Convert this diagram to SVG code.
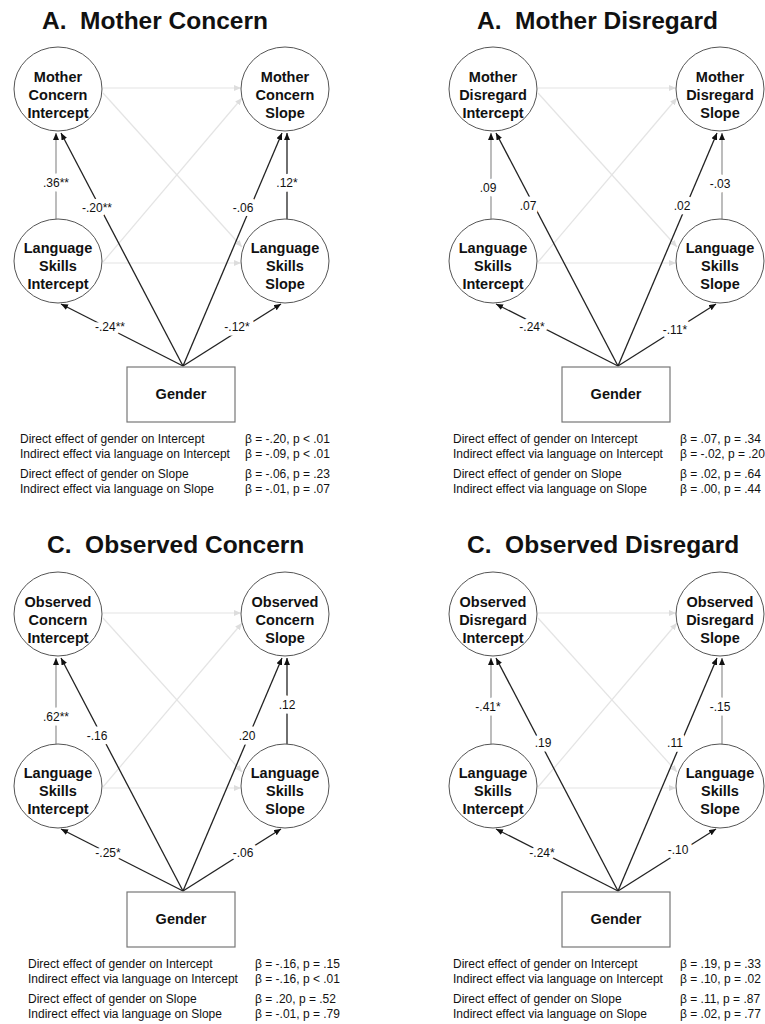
<svg xmlns="http://www.w3.org/2000/svg" width="765" height="1024" viewBox="0 0 765 1024">
<style>
text{font-family:"Liberation Sans",Arial,sans-serif;fill:#111}
.title{font-size:24.5px;font-weight:bold;white-space:pre}
.nt{font-size:14.5px;font-weight:bold;text-anchor:middle}
.lab{font-size:12px;text-anchor:middle;stroke:#fff;stroke-width:9px;paint-order:stroke;stroke-linejoin:round}
.tb{font-size:12px}
.node{fill:#fff;stroke:#555;stroke-width:1}
.box{fill:#fff;stroke:#777;stroke-width:1.2}
.lt{stroke:#e4e4e4;stroke-width:1.2;fill:none;marker-end:url(#al)}
.dk{stroke:#222;stroke-width:1.3;fill:none;marker-end:url(#ad)}
.gr{stroke:#999;stroke-width:1.3;fill:none;marker-end:url(#ad)}
</style>
<defs>
<marker id="ad" markerUnits="userSpaceOnUse" markerWidth="8" markerHeight="6" refX="7" refY="3" orient="auto"><path d="M0,0 L7,3 L0,6 Z" fill="#111"/></marker>
<marker id="al" markerUnits="userSpaceOnUse" markerWidth="8" markerHeight="6" refX="7" refY="3" orient="auto"><path d="M0,0 L7,3 L0,6 Z" fill="#ddd"/></marker>
</defs>
<rect width="765" height="1024" fill="#fff"/>

<!-- Titles -->
<text class="title" x="42" y="29">A.  Mother Concern</text>
<text class="title" x="477" y="29">A.  Mother Disregard</text>
<text class="title" x="47" y="553">C.  Observed Concern</text>
<text class="title" x="467" y="553">C.  Observed Disregard</text>

<!-- Panel 1 -->
<g id="panel-mother-concern">
<g id="p1-connectors">
<line class="lt" x1="103" y1="88" x2="241" y2="88"/>
<line class="lt" x1="103" y1="93" x2="242" y2="247"/>
<line class="lt" x1="103" y1="262" x2="242" y2="98"/>
<line class="lt" x1="103" y1="263" x2="241" y2="263"/>
<line class="gr" x1="56" y1="219" x2="56" y2="133"/>
<line class="dk" x1="287" y1="219" x2="287" y2="133"/>
<line class="dk" x1="183" y1="366" x2="61" y2="133"/>
<line class="dk" x1="183" y1="366" x2="282" y2="133"/>
<line class="dk" x1="183" y1="366" x2="61" y2="304"/>
<line class="dk" x1="183" y1="366" x2="281" y2="304"/>
<text class="lab" x="56" y="187">.36**</text>
<text class="lab" x="287" y="187">.12*</text>
<text class="lab" x="97" y="212">-.20**</text>
<text class="lab" x="243" y="212">-.06</text>
<text class="lab" x="110" y="331">-.24**</text>
<text class="lab" x="237" y="331">-.12*</text>
</g>
<g id="p1-mci"><ellipse class="node" cx="58" cy="89" rx="44" ry="42"/><text class="nt" x="58" y="82">Mother</text><text class="nt" x="58" y="100">Concern</text><text class="nt" x="58" y="118">Intercept</text></g>
<g id="p1-mcs"><ellipse class="node" cx="285" cy="89" rx="44" ry="42"/><text class="nt" x="285" y="82">Mother</text><text class="nt" x="285" y="100">Concern</text><text class="nt" x="285" y="118">Slope</text></g>
<g id="p1-lsi"><ellipse class="node" cx="58" cy="261" rx="44" ry="42"/><text class="nt" x="58" y="253">Language</text><text class="nt" x="58" y="271">Skills</text><text class="nt" x="58" y="289">Intercept</text></g>
<g id="p1-lss"><ellipse class="node" cx="285" cy="261" rx="44" ry="42"/><text class="nt" x="285" y="253">Language</text><text class="nt" x="285" y="271">Skills</text><text class="nt" x="285" y="289">Slope</text></g>
<g id="p1-gender"><rect class="box" x="127" y="367" width="108" height="55"/><text class="nt" x="181" y="399">Gender</text></g>
<g id="p1-table" class="tb">
<text class="tb" x="20" y="443">Direct effect of gender on Intercept</text><text class="tb" x="245" y="443">β = -.20, p &lt; .01</text>
<text class="tb" x="20" y="458">Indirect effect via language on Intercept</text><text class="tb" x="245" y="458">β = -.09, p &lt; .01</text>
<text class="tb" x="20" y="478">Direct effect of gender on Slope</text><text class="tb" x="245" y="478">β = -.06, p = .23</text>
<text class="tb" x="20" y="493">Indirect effect via language on Slope</text><text class="tb" x="245" y="493">β = -.01, p = .07</text>
</g>
</g>

<!-- Panel 2 -->
<g id="panel-mother-disregard" transform="translate(435,0)">
<g id="p2-connectors">
<line class="lt" x1="103" y1="88" x2="241" y2="88"/>
<line class="lt" x1="103" y1="93" x2="242" y2="247"/>
<line class="lt" x1="103" y1="262" x2="242" y2="98"/>
<line class="lt" x1="103" y1="263" x2="241" y2="263"/>
<line class="gr" x1="56" y1="219" x2="56" y2="133"/>
<line class="gr" x1="287" y1="219" x2="287" y2="133"/>
<line class="dk" x1="183" y1="366" x2="61" y2="133"/>
<line class="dk" x1="183" y1="366" x2="282" y2="133"/>
<line class="dk" x1="183" y1="366" x2="61" y2="304"/>
<line class="dk" x1="183" y1="366" x2="281" y2="304"/>
<text class="lab" x="53" y="192">.09</text>
<text class="lab" x="285" y="188">-.03</text>
<text class="lab" x="93" y="210">.07</text>
<text class="lab" x="247" y="210">.02</text>
<text class="lab" x="97" y="331">-.24*</text>
<text class="lab" x="240" y="334">-.11*</text>
</g>
<g id="p2-mdi"><ellipse class="node" cx="58" cy="89" rx="44" ry="42"/><text class="nt" x="58" y="82">Mother</text><text class="nt" x="58" y="100">Disregard</text><text class="nt" x="58" y="118">Intercept</text></g>
<g id="p2-mds"><ellipse class="node" cx="285" cy="89" rx="44" ry="42"/><text class="nt" x="285" y="82">Mother</text><text class="nt" x="285" y="100">Disregard</text><text class="nt" x="285" y="118">Slope</text></g>
<g id="p2-lsi"><ellipse class="node" cx="58" cy="261" rx="44" ry="42"/><text class="nt" x="58" y="253">Language</text><text class="nt" x="58" y="271">Skills</text><text class="nt" x="58" y="289">Intercept</text></g>
<g id="p2-lss"><ellipse class="node" cx="285" cy="261" rx="44" ry="42"/><text class="nt" x="285" y="253">Language</text><text class="nt" x="285" y="271">Skills</text><text class="nt" x="285" y="289">Slope</text></g>
<g id="p2-gender"><rect class="box" x="127" y="367" width="108" height="55"/><text class="nt" x="181" y="399">Gender</text></g>
<g id="p2-table">
<text class="tb" x="18" y="443">Direct effect of gender on Intercept</text><text class="tb" x="245" y="443">β = .07, p = .34</text>
<text class="tb" x="18" y="458">Indirect effect via language on Intercept</text><text class="tb" x="245" y="458">β = -.02, p = .20</text>
<text class="tb" x="18" y="478">Direct effect of gender on Slope</text><text class="tb" x="245" y="478">β = .02, p = .64</text>
<text class="tb" x="18" y="493">Indirect effect via language on Slope</text><text class="tb" x="245" y="493">β = .00, p = .44</text>
</g>
</g>

<!-- Panel 3 -->
<g id="panel-observed-concern" transform="translate(0,525)">
<g id="p3-connectors">
<line class="lt" x1="103" y1="88" x2="241" y2="88"/>
<line class="lt" x1="103" y1="93" x2="242" y2="247"/>
<line class="lt" x1="103" y1="262" x2="242" y2="98"/>
<line class="lt" x1="103" y1="263" x2="241" y2="263"/>
<line class="gr" x1="56" y1="219" x2="56" y2="133"/>
<line class="dk" x1="287" y1="219" x2="287" y2="133"/>
<line class="dk" x1="183" y1="366" x2="61" y2="133"/>
<line class="dk" x1="183" y1="366" x2="282" y2="133"/>
<line class="dk" x1="183" y1="366" x2="61" y2="304"/>
<line class="dk" x1="183" y1="366" x2="281" y2="304"/>
<text class="lab" x="56" y="196">.62**</text>
<text class="lab" x="287" y="184">.12</text>
<text class="lab" x="97" y="215">-.16</text>
<text class="lab" x="247" y="215">.20</text>
<text class="lab" x="108" y="332">-.25*</text>
<text class="lab" x="243" y="332">-.06</text>
</g>
<g id="p3-oci"><ellipse class="node" cx="58" cy="89" rx="44" ry="42"/><text class="nt" x="58" y="82">Observed</text><text class="nt" x="58" y="100">Concern</text><text class="nt" x="58" y="118">Intercept</text></g>
<g id="p3-ocs"><ellipse class="node" cx="285" cy="89" rx="44" ry="42"/><text class="nt" x="285" y="82">Observed</text><text class="nt" x="285" y="100">Concern</text><text class="nt" x="285" y="118">Slope</text></g>
<g id="p3-lsi"><ellipse class="node" cx="58" cy="261" rx="44" ry="42"/><text class="nt" x="58" y="253">Language</text><text class="nt" x="58" y="271">Skills</text><text class="nt" x="58" y="289">Intercept</text></g>
<g id="p3-lss"><ellipse class="node" cx="285" cy="261" rx="44" ry="42"/><text class="nt" x="285" y="253">Language</text><text class="nt" x="285" y="271">Skills</text><text class="nt" x="285" y="289">Slope</text></g>
<g id="p3-gender"><rect class="box" x="127" y="367" width="108" height="55"/><text class="nt" x="181" y="399">Gender</text></g>
<g id="p3-table">
<text class="tb" x="28" y="443">Direct effect of gender on Intercept</text><text class="tb" x="255" y="443">β = -.16, p = .15</text>
<text class="tb" x="28" y="458">Indirect effect via language on Intercept</text><text class="tb" x="255" y="458">β = -.16, p &lt; .01</text>
<text class="tb" x="28" y="478">Direct effect of gender on Slope</text><text class="tb" x="255" y="478">β = .20, p = .52</text>
<text class="tb" x="28" y="493">Indirect effect via language on Slope</text><text class="tb" x="255" y="493">β = -.01, p = .79</text>
</g>
</g>

<!-- Panel 4 -->
<g id="panel-observed-disregard" transform="translate(435,525)">
<g id="p4-connectors">
<line class="lt" x1="103" y1="88" x2="241" y2="88"/>
<line class="lt" x1="103" y1="93" x2="242" y2="247"/>
<line class="lt" x1="103" y1="262" x2="242" y2="98"/>
<line class="lt" x1="103" y1="263" x2="241" y2="263"/>
<line class="gr" x1="56" y1="219" x2="56" y2="133"/>
<line class="gr" x1="287" y1="219" x2="287" y2="133"/>
<line class="dk" x1="183" y1="366" x2="61" y2="133"/>
<line class="dk" x1="183" y1="366" x2="282" y2="133"/>
<line class="dk" x1="183" y1="366" x2="61" y2="304"/>
<line class="dk" x1="183" y1="366" x2="281" y2="304"/>
<text class="lab" x="53" y="186">-.41*</text>
<text class="lab" x="285" y="186">-.15</text>
<text class="lab" x="108" y="222">.19</text>
<text class="lab" x="240" y="222">.11</text>
<text class="lab" x="107" y="332">-.24*</text>
<text class="lab" x="243" y="329">-.10</text>
</g>
<g id="p4-odi"><ellipse class="node" cx="58" cy="89" rx="44" ry="42"/><text class="nt" x="58" y="82">Observed</text><text class="nt" x="58" y="100">Disregard</text><text class="nt" x="58" y="118">Intercept</text></g>
<g id="p4-ods"><ellipse class="node" cx="285" cy="89" rx="44" ry="42"/><text class="nt" x="285" y="82">Observed</text><text class="nt" x="285" y="100">Disregard</text><text class="nt" x="285" y="118">Slope</text></g>
<g id="p4-lsi"><ellipse class="node" cx="58" cy="261" rx="44" ry="42"/><text class="nt" x="58" y="253">Language</text><text class="nt" x="58" y="271">Skills</text><text class="nt" x="58" y="289">Intercept</text></g>
<g id="p4-lss"><ellipse class="node" cx="285" cy="261" rx="44" ry="42"/><text class="nt" x="285" y="253">Language</text><text class="nt" x="285" y="271">Skills</text><text class="nt" x="285" y="289">Slope</text></g>
<g id="p4-gender"><rect class="box" x="127" y="367" width="108" height="55"/><text class="nt" x="181" y="399">Gender</text></g>
<g id="p4-table">
<text class="tb" x="18" y="443">Direct effect of gender on Intercept</text><text class="tb" x="245" y="443">β = .19, p = .33</text>
<text class="tb" x="18" y="458">Indirect effect via language on Intercept</text><text class="tb" x="245" y="458">β = .10, p = .02</text>
<text class="tb" x="18" y="478">Direct effect of gender on Slope</text><text class="tb" x="245" y="478">β = .11, p = .87</text>
<text class="tb" x="18" y="493">Indirect effect via language on Slope</text><text class="tb" x="245" y="493">β = .02, p = .77</text>
</g>
</g>
</svg>
